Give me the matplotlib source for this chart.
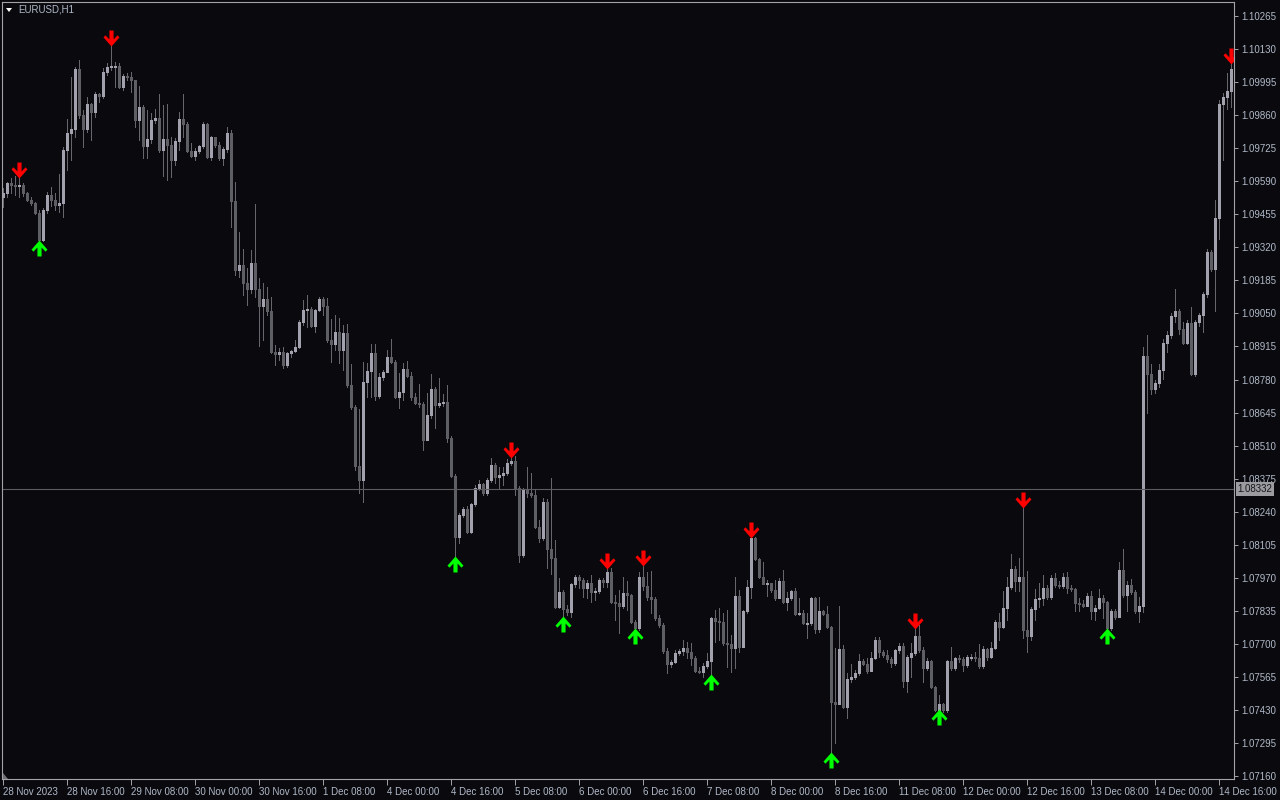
import numpy as np
import matplotlib.pyplot as plt
from matplotlib.path import Path
from matplotlib.patches import Polygon

# EURUSD H1, 28 Nov 2023 00:00 .. 14 Dec 2023 19:00 (weekends skipped)
first_open = 1.09526

closes = [
    1.09542, 1.09583, 1.09575, 1.09571, 1.09575, 1.09542, 1.09514, 1.09501, 1.09461, 1.09350,
    1.09473, 1.09534, 1.09514, 1.09493, 1.09501, 1.09718, 1.09788, 1.09804, 1.10049, 1.09861,
    1.09804, 1.09906, 1.09873, 1.09947, 1.09939, 1.10037, 1.10057, 1.10057, 1.10061, 1.09975,
    1.10020, 1.10016, 1.10004, 1.09841, 1.09894, 1.09734, 1.09763, 1.09841, 1.09849, 1.09718,
    1.09763, 1.09738, 1.09677, 1.09755, 1.09845, 1.09824, 1.09714, 1.09694, 1.09714, 1.09734,
    1.09824, 1.09689, 1.09771, 1.09738, 1.09685, 1.09722, 1.09788, 1.09510, 1.09228, 1.09248,
    1.09175, 1.09150, 1.09256, 1.09150, 1.09081, 1.09109, 1.09060, 1.08893, 1.08885, 1.08893,
    1.08840, 1.08889, 1.08897, 1.08913, 1.09015, 1.09064, 1.09068, 1.08999, 1.09064, 1.09109,
    1.09081, 1.08942, 1.08925, 1.08974, 1.08901, 1.08970, 1.08758, 1.08668, 1.08427, 1.08370,
    1.08770, 1.08815, 1.08889, 1.08713, 1.08791, 1.08811, 1.08872, 1.08852, 1.08709, 1.08729,
    1.08823, 1.08795, 1.08709, 1.08684, 1.08680, 1.08533, 1.08635, 1.08741, 1.08676, 1.08684,
    1.08688, 1.08541, 1.08386, 1.08137, 1.08227, 1.08251, 1.08157, 1.08272, 1.08337, 1.08353,
    1.08317, 1.08370, 1.08431, 1.08382, 1.08390, 1.08398, 1.08439, 1.08447, 1.08337, 1.08063,
    1.08333, 1.08317, 1.08308, 1.08178, 1.08133, 1.08280, 1.08088, 1.08051, 1.07851, 1.07912,
    1.07843, 1.07830, 1.07945, 1.07973, 1.07961, 1.07928, 1.07949, 1.07912, 1.07916, 1.07961,
    1.07953, 1.07994, 1.07871, 1.07867, 1.07855, 1.07908, 1.07900, 1.07789, 1.07765, 1.07973,
    1.07937, 1.07892, 1.07883, 1.07806, 1.07777, 1.07671, 1.07618, 1.07626, 1.07663, 1.07671,
    1.07683, 1.07667, 1.07642, 1.07589, 1.07585, 1.07610, 1.07630, 1.07806, 1.07794, 1.07789,
    1.07704, 1.07700, 1.07683, 1.07896, 1.07687, 1.07834, 1.07932, 1.08133, 1.08047, 1.07973,
    1.07945, 1.07949, 1.07920, 1.07888, 1.07957, 1.07871, 1.07888, 1.07916, 1.07822, 1.07826,
    1.07785, 1.07785, 1.07888, 1.07761, 1.07834, 1.07822, 1.07769, 1.07463, 1.07454, 1.07679,
    1.07442, 1.07557, 1.07565, 1.07581, 1.07630, 1.07618, 1.07589, 1.07642, 1.07716, 1.07667,
    1.07655, 1.07638, 1.07622, 1.07675, 1.07691, 1.07548, 1.07646, 1.07663, 1.07732, 1.07675,
    1.07602, 1.07630, 1.07524, 1.07430, 1.07454, 1.07430, 1.07630, 1.07602, 1.07642, 1.07638,
    1.07614, 1.07646, 1.07646, 1.07642, 1.07610, 1.07679, 1.07646, 1.07683, 1.07789, 1.07769,
    1.07847, 1.07932, 1.08006, 1.07957, 1.07973, 1.07757, 1.07732, 1.07843, 1.07883, 1.07888,
    1.07928, 1.07892, 1.07969, 1.07941, 1.07937, 1.07973, 1.07928, 1.07924, 1.07867, 1.07863,
    1.07855, 1.07896, 1.07834, 1.07847, 1.07888, 1.07871, 1.07765, 1.07834, 1.07810, 1.08002,
    1.07900, 1.07941, 1.07912, 1.07834, 1.07855, 1.08876, 1.08803, 1.08741, 1.08766, 1.08819,
    1.08930, 1.08962, 1.09040, 1.09060, 1.08987, 1.08930, 1.09011, 1.08803, 1.09015, 1.09044,
    1.09130, 1.09301, 1.09232, 1.09440, 1.09906, 1.09935, 1.09959, 1.10049,
]

highs = [
    1.09563, 1.09587, 1.09604, 1.09612, 1.09608, 1.09583, 1.09546, 1.09526, 1.09506, 1.09473,
    1.09481, 1.09546, 1.09567, 1.09542, 1.09620, 1.09730, 1.09845, 1.10016, 1.10057, 1.10086,
    1.09882, 1.09935, 1.09910, 1.09955, 1.09951, 1.10053, 1.10074, 1.10147, 1.10078, 1.10074,
    1.10029, 1.10033, 1.10037, 1.10004, 1.09980, 1.09902, 1.09882, 1.09869, 1.09886, 1.09947,
    1.09902, 1.09906, 1.09771, 1.09767, 1.09873, 1.09947, 1.09833, 1.09747, 1.09726, 1.09738,
    1.09833, 1.09828, 1.09775, 1.09771, 1.09751, 1.09730, 1.09812, 1.09800, 1.09587, 1.09383,
    1.09314, 1.09236, 1.09310, 1.09497, 1.09195, 1.09175, 1.09158, 1.09117, 1.08921, 1.08909,
    1.08913, 1.08893, 1.08901, 1.08942, 1.09023, 1.09105, 1.09126, 1.09077, 1.09068, 1.09117,
    1.09117, 1.09113, 1.09028, 1.09044, 1.09032, 1.09003, 1.09007, 1.08844, 1.08676, 1.08660,
    1.08852, 1.08848, 1.08925, 1.08925, 1.08807, 1.08819, 1.08901, 1.08946, 1.08860, 1.08807,
    1.08848, 1.08856, 1.08811, 1.08725, 1.08762, 1.08688, 1.08725, 1.08803, 1.08750, 1.08786,
    1.08721, 1.08758, 1.08550, 1.08394, 1.08235, 1.08259, 1.08263, 1.08276, 1.08349, 1.08370,
    1.08357, 1.08378, 1.08460, 1.08439, 1.08423, 1.08423, 1.08455, 1.08464, 1.08468, 1.08345,
    1.08337, 1.08423, 1.08398, 1.08329, 1.08206, 1.08296, 1.08292, 1.08378, 1.08125, 1.07969,
    1.07920, 1.07859, 1.07949, 1.07982, 1.07982, 1.07969, 1.07961, 1.07982, 1.07928, 1.07969,
    1.07969, 1.08010, 1.08010, 1.07900, 1.07920, 1.07973, 1.07957, 1.07904, 1.07798, 1.07994,
    1.08022, 1.07994, 1.07998, 1.07892, 1.07818, 1.07785, 1.07683, 1.07634, 1.07675, 1.07679,
    1.07716, 1.07708, 1.07704, 1.07651, 1.07606, 1.07622, 1.07663, 1.07810, 1.07838, 1.07847,
    1.07826, 1.07838, 1.07736, 1.07973, 1.07920, 1.07838, 1.07961, 1.08137, 1.08137, 1.08051,
    1.08035, 1.07961, 1.07941, 1.07961, 1.07969, 1.08002, 1.07912, 1.07920, 1.07928, 1.07888,
    1.07838, 1.07826, 1.07892, 1.07892, 1.07892, 1.07838, 1.07855, 1.07773, 1.07683, 1.07855,
    1.07695, 1.07581, 1.07618, 1.07593, 1.07659, 1.07638, 1.07642, 1.07667, 1.07728, 1.07728,
    1.07675, 1.07675, 1.07646, 1.07679, 1.07704, 1.07704, 1.07655, 1.07704, 1.07765, 1.07777,
    1.07687, 1.07642, 1.07634, 1.07528, 1.07491, 1.07458, 1.07634, 1.07687, 1.07646, 1.07655,
    1.07646, 1.07655, 1.07659, 1.07667, 1.07700, 1.07691, 1.07683, 1.07708, 1.07798, 1.07826,
    1.07916, 1.07973, 1.08067, 1.08018, 1.08051, 1.08259, 1.07998, 1.07851, 1.07924, 1.07949,
    1.07982, 1.07941, 1.07982, 1.07990, 1.07957, 1.07990, 1.07994, 1.07941, 1.07928, 1.07888,
    1.07879, 1.07908, 1.07916, 1.07859, 1.07924, 1.07900, 1.07875, 1.07843, 1.07843, 1.08035,
    1.08088, 1.07957, 1.07965, 1.07920, 1.07892, 1.08913, 1.08962, 1.08844, 1.08778, 1.08844,
    1.08946, 1.08978, 1.09052, 1.09150, 1.09068, 1.09015, 1.09023, 1.09077, 1.09023, 1.09052,
    1.09138, 1.09314, 1.09310, 1.09514, 1.09922, 1.09951, 1.10033, 1.10074,
]

lows = [
    1.09485, 1.09526, 1.09542, 1.09534, 1.09526, 1.09530, 1.09510, 1.09493, 1.09457, 1.09346,
    1.09346, 1.09461, 1.09489, 1.09473, 1.09465, 1.09444, 1.09636, 1.09677, 1.09771, 1.09849,
    1.09730, 1.09792, 1.09759, 1.09853, 1.09914, 1.09931, 1.10024, 1.10045, 1.09975, 1.09971,
    1.09963, 1.10004, 1.09955, 1.09812, 1.09759, 1.09685, 1.09685, 1.09747, 1.09828, 1.09710,
    1.09612, 1.09595, 1.09608, 1.09657, 1.09718, 1.09771, 1.09710, 1.09689, 1.09677, 1.09706,
    1.09726, 1.09685, 1.09677, 1.09730, 1.09677, 1.09657, 1.09710, 1.09403, 1.09207, 1.09199,
    1.09126, 1.09085, 1.09134, 1.09117, 1.08917, 1.08942, 1.09044, 1.08889, 1.08840, 1.08860,
    1.08827, 1.08831, 1.08872, 1.08893, 1.08909, 1.09003, 1.08995, 1.08995, 1.08974, 1.09060,
    1.09044, 1.08934, 1.08852, 1.08901, 1.08848, 1.08819, 1.08750, 1.08660, 1.08411, 1.08317,
    1.08280, 1.08709, 1.08709, 1.08697, 1.08705, 1.08778, 1.08811, 1.08848, 1.08705, 1.08664,
    1.08697, 1.08791, 1.08697, 1.08680, 1.08668, 1.08492, 1.08533, 1.08623, 1.08582, 1.08668,
    1.08672, 1.08525, 1.08382, 1.08055, 1.08112, 1.08219, 1.08153, 1.08153, 1.08263, 1.08329,
    1.08308, 1.08308, 1.08362, 1.08357, 1.08337, 1.08349, 1.08390, 1.08431, 1.08308, 1.08035,
    1.08055, 1.08300, 1.08300, 1.08174, 1.08116, 1.08125, 1.08010, 1.07986, 1.07847, 1.07847,
    1.07806, 1.07818, 1.07810, 1.07932, 1.07928, 1.07892, 1.07888, 1.07871, 1.07879, 1.07908,
    1.07932, 1.07932, 1.07867, 1.07798, 1.07745, 1.07847, 1.07838, 1.07785, 1.07757, 1.07757,
    1.07920, 1.07879, 1.07826, 1.07798, 1.07769, 1.07663, 1.07581, 1.07606, 1.07622, 1.07655,
    1.07655, 1.07642, 1.07614, 1.07585, 1.07581, 1.07565, 1.07602, 1.07573, 1.07708, 1.07716,
    1.07695, 1.07606, 1.07585, 1.07602, 1.07667, 1.07687, 1.07826, 1.07888, 1.08043, 1.07969,
    1.07945, 1.07896, 1.07912, 1.07879, 1.07888, 1.07867, 1.07838, 1.07879, 1.07818, 1.07818,
    1.07781, 1.07724, 1.07777, 1.07745, 1.07749, 1.07818, 1.07765, 1.07254, 1.07295, 1.07491,
    1.07438, 1.07397, 1.07544, 1.07557, 1.07573, 1.07614, 1.07581, 1.07606, 1.07638, 1.07646,
    1.07646, 1.07626, 1.07606, 1.07614, 1.07663, 1.07524, 1.07503, 1.07565, 1.07655, 1.07667,
    1.07544, 1.07593, 1.07520, 1.07426, 1.07426, 1.07422, 1.07422, 1.07593, 1.07593, 1.07626,
    1.07589, 1.07606, 1.07634, 1.07630, 1.07602, 1.07602, 1.07634, 1.07642, 1.07679, 1.07716,
    1.07765, 1.07798, 1.07924, 1.07916, 1.07916, 1.07724, 1.07667, 1.07716, 1.07798, 1.07851,
    1.07859, 1.07883, 1.07883, 1.07932, 1.07928, 1.07928, 1.07908, 1.07916, 1.07834, 1.07834,
    1.07851, 1.07855, 1.07802, 1.07798, 1.07843, 1.07806, 1.07757, 1.07757, 1.07802, 1.07810,
    1.07892, 1.07834, 1.07904, 1.07826, 1.07789, 1.07830, 1.08644, 1.08721, 1.08725, 1.08750,
    1.08782, 1.08893, 1.08950, 1.09015, 1.08966, 1.08925, 1.08925, 1.08799, 1.08795, 1.08999,
    1.08974, 1.09117, 1.09224, 1.09060, 1.09354, 1.09677, 1.09886, 1.09894,
]

# bars where the indicator printed an arrow
sell_signals = [4, 27, 127, 151, 160, 187, 228, 255, 307]
buy_signals = [9, 113, 140, 158, 177, 207, 234, 276]

time_labels = [
    "28 Nov 2023", "28 Nov 16:00", "29 Nov 08:00", "30 Nov 00:00", "30 Nov 16:00",
    "1 Dec 08:00", "4 Dec 00:00", "4 Dec 16:00", "5 Dec 08:00", "6 Dec 00:00",
    "6 Dec 16:00", "7 Dec 08:00", "8 Dec 00:00", "8 Dec 16:00", "11 Dec 08:00",
    "12 Dec 00:00", "12 Dec 16:00", "13 Dec 08:00", "14 Dec 00:00", "14 Dec 16:00",
]
price_ticks = [
    1.07160, 1.07295, 1.07430, 1.07565, 1.07700, 1.07835, 1.07970, 1.08105,
    1.08240, 1.08375, 1.08510, 1.08645, 1.08780, 1.08915, 1.09050, 1.09185,
    1.09320, 1.09455, 1.09590, 1.09725, 1.09860, 1.09995, 1.10130, 1.10265,
]
bid_price = 1.08332
symbol = "EURUSD,H1"

BG = "#0a0a0e"
FRAME = "#a4a4a8"
TXT = "#b0b9c8"
BULL = "#a2a2ae"
BEAR = "#5e5e65"
WICK = "#66666c"

plt.rcParams["font.family"] = ["Liberation Sans", "DejaVu Sans"]

closes = np.array(closes)
opens = np.r_[first_open, closes[:-1]]
highs = np.maximum(np.array(highs), np.maximum(opens, closes))
lows = np.minimum(np.array(lows), np.minimum(opens, closes))
x = np.arange(len(closes))

fig = plt.figure(figsize=(12.8, 8), dpi=100, facecolor=BG)
ax = fig.add_axes([2 / 1280, 21 / 800, 1232 / 1280, 777 / 800])
ax.set_facecolor(BG)

up = closes >= opens
colors = np.where(up, BULL, BEAR)
px_pt = 72 / 100  # one screen pixel in points

# wicks 1px, bodies 3px wide
ax.vlines(x, lows, highs, colors=WICK, linewidth=px_pt, antialiased=False)
body_lo = np.minimum(opens, closes)
body_hi = np.maximum(opens, closes)
tiny = (body_hi - body_lo) < 0.00004
mid = (opens + closes) / 2
body_lo = np.where(tiny, mid - 0.00002, body_lo)
body_hi = np.where(tiny, mid + 0.00002, body_hi)
ax.vlines(x, body_lo, body_hi, colors=colors, linewidth=3 * px_pt,
          antialiased=False, capstyle="butt")

# indicator arrows
down_arrow = Path([(-0.13, 0.5), (0.13, 0.5), (0.13, -0.06), (0.38, 0.2), (0.5, 0.07),
                   (0, -0.5), (-0.5, 0.07), (-0.38, 0.2), (-0.13, -0.06), (-0.13, 0.5)],
                  closed=True)
up_arrow = Path(down_arrow.vertices * [1, -1], closed=True)
off = 0.00027
ax.plot(x[sell_signals], highs[sell_signals] + off, linestyle="none",
        marker=down_arrow, markersize=11.5, color="#ff0000", markeredgewidth=0)
ax.plot(x[buy_signals], lows[buy_signals] - off, linestyle="none",
        marker=up_arrow, markersize=11.5, color="#00ff00", markeredgewidth=0)

# bid line
ax.axhline(bid_price, color="#5c5c60", linewidth=0.8)
ax.annotate(f"{bid_price:.5f}", xy=(1, bid_price), xycoords=("axes fraction", "data"),
            xytext=(2.5, 0), textcoords="offset points", ha="left", va="center",
            fontsize=7, color="#15151a",
            bbox=dict(boxstyle="square,pad=0.18", fc="#9c9ca0", ec="none"),
            annotation_clip=False)

ax.set_xlim(-0.25, 307.75)
ax.set_ylim(1.071477, 1.103225)

ax.set_xticks(np.arange(0, len(closes), 16))
ax.set_xticklabels(time_labels, ha="left")
ax.yaxis.tick_right()
ax.set_yticks(price_ticks)
ax.set_yticklabels([f"{v:.5f}" for v in price_ticks])
ax.tick_params(axis="x", direction="out", length=4, width=0.7, color=FRAME,
               labelsize=7, labelcolor=TXT, pad=1.5)
ax.tick_params(axis="y", direction="out", length=3, width=0.7, color=FRAME,
               labelsize=7, labelcolor=TXT, pad=2)
for s in ax.spines.values():
    s.set_color(FRAME)
    s.set_linewidth(0.8)

# symbol caption with the little dropdown triangle
fig.text(18 / 1280, 1 - 10 / 800, symbol, fontsize=7, color=TXT, va="center", ha="left")
fig.patches.append(Polygon([(6 / 1280, 1 - 8 / 800), (12 / 1280, 1 - 8 / 800), (9 / 1280, 1 - 12 / 800)],
                           closed=True, transform=fig.transFigure, fc="white", ec="none"))
# chart shift marker in the bottom-left corner
fig.patches.append(Polygon([(3 / 1280, 1 - 773 / 800), (3 / 1280, 1 - 779 / 800), (8 / 1280, 1 - 779 / 800)],
                           closed=True, transform=fig.transFigure, fc="#707074", ec="none"))

fig.savefig("out.png", dpi=100, facecolor=BG)
